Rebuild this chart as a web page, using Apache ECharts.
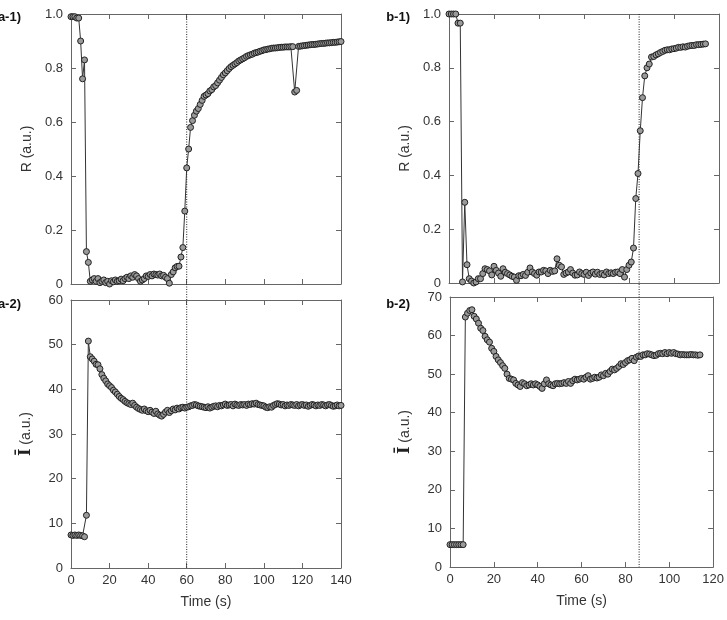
<!DOCTYPE html>
<html>
<head>
<meta charset="utf-8">
<script src="https://cdn.jsdelivr.net/npm/echarts@6/dist/echarts.min.js"></script>
<style>
  html, body { margin: 0; padding: 0; background: #fff; }
  #chart { width: 727px; height: 620px; }
</style>
</head>
<body>
<div id="chart"></div>
<script>
// time (s) of each frame
const timeA = [0,1,2,3,4,5,6,7,8,9,10,11,12,13,14,15,16,17,18,19,20,21,22,23,24,25,26,27,28,29,
  30,31,32,33,34,35,36,37,38,39,40,41,42,43,44,45,46,47,48,49,50,51,52,53,54,55,56,57,58,59,
  60,61,62,63,64,65,66,67,68,69,70,71,72,73,74,75,76,77,78,79,80,81,82,83,84,85,86,87,88,89,
  90,91,92,93,94,95,96,97,98,99,100,101,102,103,104,105,106,107,108,109,110,111,112,113,114,
  115,116,117,118,119,120,121,122,123,124,125,126,127,128,129,130,131,132,133,134,135,136,137,138,139,140];
const timeB = [0,1,2,3,4,5,6,7,8,9,10,11,12,13,14,15,16,17,18,19,20,21,22,23,24,25,26,27,28,29,
  30,31,32,33,34,35,36,37,38,39,40,41,42,43,44,45,46,47,48,49,50,51,52,53,54,55,56,57,58,59,
  60,61,62,63,64,65,66,67,68,69,70,71,72,73,74,75,76,77,78,79,80,81,82,83,84,85,86,87,88,89,
  90,91,92,93,94,95,96,97,98,99,100,101,102,103,104,105,106,107,108,109,110,111,112,113,114];

// a-1) R (a.u.)
const rA = [0.99,0.99,0.99,0.985,0.985,0.90,0.76,0.83,0.12,0.08,0.01,0.015,0.02,0.01,0.02,0.005,0.01,0.015,0.005,0.01,
  0.0,0.012,0.008,0.015,0.01,0.012,0.018,0.012,0.02,0.025,0.02,0.03,0.025,0.035,0.03,0.02,0.01,0.015,0.02,0.03,
  0.028,0.035,0.03,0.037,0.035,0.033,0.037,0.03,0.032,0.025,0.02,0.003,0.035,0.045,0.06,0.065,0.066,0.10,0.135,0.27,
  0.43,0.50,0.58,0.605,0.625,0.64,0.65,0.665,0.68,0.695,0.70,0.705,0.715,0.72,0.73,0.735,0.745,0.755,0.765,0.775,
  0.782,0.79,0.798,0.805,0.81,0.815,0.82,0.826,0.83,0.834,0.838,0.843,0.846,0.849,0.851,0.855,0.857,0.859,0.862,0.864,
  0.867,0.868,0.87,0.871,0.873,0.874,0.874,0.875,0.876,0.877,0.877,0.878,0.878,0.878,0.879,0.879,0.711,0.717,0.88,0.881,
  0.882,0.883,0.884,0.885,0.886,0.887,0.887,0.888,0.889,0.89,0.891,0.891,0.892,0.893,0.893,0.894,0.895,0.895,0.896,0.897,0.898];

// a-2) mean intensity (a.u.)
const iA = [7.4,7.3,7.4,7.3,7.4,7.3,7.2,7.0,11.8,50.8,47.3,46.8,46.3,45.6,45.5,44.6,43.3,42.5,41.9,41.2,
  40.8,40.4,39.8,39.4,38.9,38.4,38.0,37.7,37.3,37.0,36.8,36.6,36.9,36.4,36.0,35.7,35.5,35.3,35.6,35.2,
  35.0,35.3,34.9,34.6,35.1,34.5,34.2,34.0,34.4,34.9,35.3,34.8,35.2,35.6,35.4,35.8,35.6,35.9,36.0,35.8,
  36.0,36.1,36.3,36.4,36.6,36.5,36.3,36.2,36.1,36.0,35.9,36.1,35.8,36.0,36.2,36.3,36.1,36.4,36.3,36.5,
  36.7,36.4,36.5,36.6,36.3,36.7,36.5,36.4,36.6,36.5,36.6,36.4,36.7,36.6,36.8,36.7,36.9,36.6,36.5,36.4,
  36.3,36.0,35.9,36.1,36.0,36.4,36.6,36.8,36.7,36.5,36.6,36.3,36.5,36.4,36.6,36.5,36.4,36.6,36.3,36.5,
  36.6,36.4,36.5,36.2,36.4,36.6,36.5,36.3,36.5,36.4,36.6,36.5,36.3,36.5,36.6,36.4,36.2,36.3,36.5,36.3,36.4];

// b-1) R (a.u.)
const rB = [1.0,1.0,1.0,1.0,0.966,0.966,0.004,0.30,0.068,0.016,0.007,0.0,0.004,0.016,0.016,0.035,0.053,0.05,0.045,0.03,
  0.062,0.047,0.037,0.025,0.053,0.04,0.035,0.03,0.025,0.022,0.01,0.027,0.027,0.032,0.028,0.04,0.056,0.041,0.035,0.029,
  0.041,0.041,0.047,0.045,0.035,0.047,0.043,0.045,0.09,0.066,0.06,0.032,0.037,0.041,0.05,0.037,0.029,0.03,0.041,0.035,
  0.032,0.04,0.028,0.037,0.041,0.033,0.04,0.032,0.035,0.03,0.041,0.035,0.038,0.035,0.04,0.041,0.035,0.05,0.022,0.05,
  0.066,0.078,0.13,0.314,0.407,0.566,0.689,0.77,0.80,0.814,0.84,0.842,0.848,0.852,0.857,0.861,0.865,0.867,0.867,0.87,
  0.871,0.873,0.876,0.876,0.878,0.877,0.88,0.882,0.883,0.883,0.886,0.886,0.887,0.888,0.889];

// b-2) mean intensity (a.u.)
const iB = [5.8,5.8,5.8,5.8,5.8,5.8,5.8,64.8,65.8,66.5,66.7,65.0,64.3,63.2,61.9,61.3,59.8,58.9,58.3,56.7,
  55.9,54.6,53.7,53.0,52.2,51.5,50.0,48.9,48.7,48.5,47.6,47.2,46.8,47.8,47.5,47.0,47.2,47.5,47.2,47.5,
  47.2,46.8,46.3,47.5,48.5,47.5,47.2,47.0,47.5,47.6,47.5,47.6,47.8,47.6,48.1,47.6,48.3,48.7,48.5,48.7,
  48.9,48.7,49.2,49.6,48.7,48.9,49.2,49.0,49.2,49.8,49.6,50.2,50.0,50.7,51.3,51.1,51.5,52.0,52.7,52.5,
  53.0,53.5,53.7,54.1,53.5,54.4,54.7,54.6,55.0,55.0,55.3,55.2,55.0,54.8,54.9,55.3,55.4,55.3,55.6,55.3,
  55.6,55.4,55.6,55.3,55.2,55.0,55.1,55.0,55.0,55.0,55.1,55.0,55.0,54.9,55.0];

// switching times marked with dotted lines
const markA = 60;
const markB = 84.5;

const FONT = 'Liberation Sans, Arial, sans-serif';
const AX = '#666';

function pairs(t, v) {
  return t.map((x, i) => [x, v[i]]);
}

function xAxes(grid, max, showLabels, name) {
  const base = {
    type: 'value', gridIndex: grid, min: 0, max: max, interval: 20,
    axisLine: { show: true, onZero: false, lineStyle: { color: AX, width: 1 } },
    axisTick: { inside: true, length: 5, lineStyle: { color: AX } },
    splitLine: { show: false }
  };
  return [
    Object.assign({}, base, {
      position: 'bottom',
      axisLabel: { show: showLabels, color: '#333', fontSize: 13, fontFamily: FONT, margin: 6 },
      name: name || '', nameLocation: 'middle', nameGap: 27,
      nameTextStyle: { color: '#333', fontSize: 14, fontFamily: FONT }
    }),
    Object.assign({}, base, { position: 'top', axisLabel: { show: false } })
  ];
}

function yAxes(grid, max, interval, fmt, name) {
  const base = {
    type: 'value', gridIndex: grid, min: 0, max: max, interval: interval,
    axisLine: { show: true, onZero: false, lineStyle: { color: AX, width: 1 } },
    axisTick: { inside: true, length: 5, lineStyle: { color: AX } },
    splitLine: { show: false }
  };
  return [
    Object.assign({}, base, {
      position: 'left',
      axisLabel: { color: '#333', fontSize: 13, fontFamily: FONT, margin: 8, formatter: fmt },
      name: name, nameLocation: 'middle', nameGap: 37, nameRotate: 90,
      nameTextStyle: {
        color: '#333', fontSize: 14, fontFamily: FONT,
        rich: { bar: { fontSize: 16, fontWeight: 'bold', fontFamily: 'DejaVu Serif', color: '#222' } }
      }
    }),
    Object.assign({}, base, { position: 'right', axisLabel: { show: false } })
  ];
}

const fmtR = v => (v === 0 ? '0' : v.toFixed(1));
const fmtI = v => String(v);

function lineSeries(x, y, data) {
  return {
    type: 'line', xAxisIndex: x, yAxisIndex: y, data: data,
    symbol: 'circle', symbolSize: 6, showAllSymbol: true,
    lineStyle: { color: '#333', width: 1 },
    itemStyle: { color: '#9a9a9a', borderColor: '#222', borderWidth: 1 },
    emphasis: { disabled: true }
  };
}

const chart = echarts.init(document.getElementById('chart'));
chart.setOption({
  animation: false,
  backgroundColor: '#fff',
  grid: [
    { left: 71, top: 14, width: 270, height: 270 },
    { left: 71, top: 300, width: 270, height: 268 },
    { left: 449, top: 14, width: 270, height: 269 },
    { left: 450, top: 297, width: 269, height: 270 }
  ],
  xAxis: [].concat(
    xAxes(0, 140, false),
    xAxes(1, 140, true, 'Time (s)'),
    xAxes(2, 120, false),
    xAxes(3, 120, true, 'Time (s)')
  ),
  yAxis: [].concat(
    yAxes(0, 1.0, 0.2, fmtR, 'R (a.u.)'),
    yAxes(1, 60, 10, fmtI, '{bar|\u012A} (a.u.)'),
    yAxes(2, 1.0, 0.2, fmtR, 'R (a.u.)'),
    yAxes(3, 70, 10, fmtI, '{bar|\u012A} (a.u.)')
  ),
  series: [
    lineSeries(0, 0, pairs(timeA, rA)),
    lineSeries(2, 2, pairs(timeA, iA)),
    lineSeries(4, 4, pairs(timeB, rB)),
    lineSeries(6, 6, pairs(timeB, iB))
  ]
});

// panel tags and the dotted switching lines running through both panels
const xa = chart.convertToPixel({ xAxisIndex: 0 }, markA);
const xb = chart.convertToPixel({ xAxisIndex: 4 }, markB);
const dotted = { stroke: '#222', lineWidth: 1, lineDash: [1, 1.5] };
function tag(text, x, y) {
  return { type: 'text', x: x, y: y, style: { text: text, font: 'bold 13px ' + FONT, fill: '#111', align: 'right', verticalAlign: 'middle' } };
}
chart.setOption({
  graphic: [
    { type: 'line', shape: { x1: xa, y1: chart.convertToPixel({ yAxisIndex: 0 }, 1), x2: xa, y2: chart.convertToPixel({ yAxisIndex: 2 }, 0) }, style: dotted, z: 1 },
    { type: 'line', shape: { x1: xb, y1: chart.convertToPixel({ yAxisIndex: 4 }, 1), x2: xb, y2: chart.convertToPixel({ yAxisIndex: 6 }, 0) }, style: dotted, z: 1 },
    tag('a-1)', 21, 17),
    tag('a-2)', 21, 304),
    tag('b-1)', 410, 17),
    tag('b-2)', 410, 304)
  ]
});
</script>
</body>
</html>
